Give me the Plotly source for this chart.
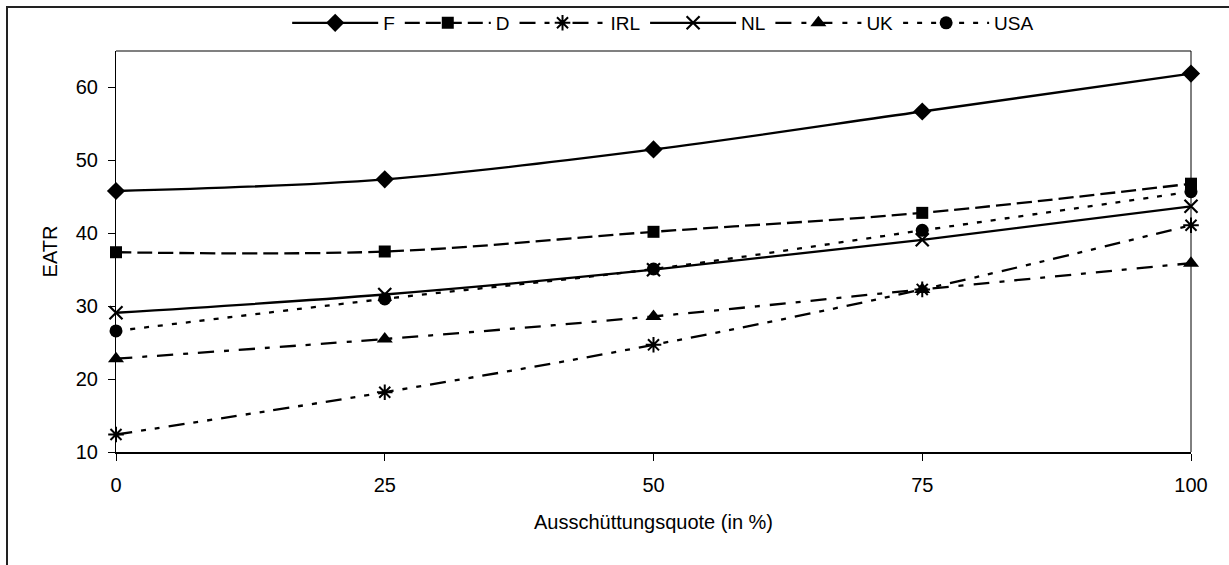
import plotly.graph_objects as go

# ---- data ----
x_vals = [0, 25, 50, 75, 100]
series_names = ["F", "D", "IRL", "NL", "UK", "USA"]
F = [45.8, 47.4, 51.5, 56.7, 61.9]
D = [37.4, 37.5, 40.2, 42.8, 46.8]
IRL = [12.4, 18.2, 24.7, 32.3, 41.1]
NL = [29.1, 31.6, 35.0, 39.1, 43.7]
UK = [22.8, 25.5, 28.6, 32.3, 35.9]
USA = [26.6, 31.0, 35.1, 40.4, 45.7]
x_ticks = [0, 25, 50, 75, 100]
y_ticks = [10, 20, 30, 40, 50, 60]
x_title = "Ausschüttungsquote (in %)"
y_title = "EATR"

values = {"F": F, "D": D, "IRL": IRL, "NL": NL, "UK": UK, "USA": USA}

# ---- styles ----
styles = {
    "F":   dict(dash="solid", symbol="diamond", size=14, lw=0),
    "D":   dict(dash="15px,6px", symbol="square", size=12, lw=0),
    "IRL": dict(dash="16px,9px,5px,9px,5px,9px", symbol="asterisk-open", size=13, lw=2),
    "NL":  dict(dash="solid", symbol="x-thin-open", size=13, lw=2.2),
    "UK":  dict(dash="16px,10px,5px,10px", symbol="triangle-up", size=14, lw=0),
    "USA": dict(dash="5px,9px", symbol="circle", size=13, lw=0),
}

FONT = "Liberation Sans, Arial, sans-serif"

fig = go.Figure()
for name in series_names:
    s = styles[name]
    fig.add_trace(go.Scatter(
        x=x_vals, y=values[name], name=name,
        mode="lines+markers",
        line=dict(color="black", width=2.3, dash=s["dash"], shape="spline", smoothing=1),
        marker=dict(symbol=s["symbol"], size=s["size"], color="black",
                    line=dict(color="black", width=s["lw"])),
        cliponaxis=False,
    ))

fig.update_layout(
    width=1229, height=565,
    margin=dict(l=116, r=38, t=51, b=113, autoexpand=False),
    paper_bgcolor="white", plot_bgcolor="white",
    font=dict(family=FONT, size=20, color="black"),
    showlegend=True,
    legend=dict(orientation="h", x=0.509, xanchor="center", y=1.07, yanchor="middle",
                font=dict(size=19), itemwidth=86, bgcolor="rgba(0,0,0,0)",
                traceorder="normal"),
    xaxis=dict(range=[0, 100], tickvals=x_ticks, ticks="outside", ticklen=7,
               tickcolor="black", showline=True, linecolor="black", linewidth=2,
               showgrid=False, zeroline=False, ticklabelstandoff=7,
               title=dict(text=x_title, standoff=20, font=dict(size=20))),
    yaxis=dict(range=[10, 65], tickvals=y_ticks, ticks="outside", ticklen=7,
               tickcolor="black", showline=True, linecolor="black", linewidth=1,
               showgrid=False, zeroline=False, ticklabelstandoff=6,
               title=dict(text=y_title, standoff=12, font=dict(size=20))),
)

# plot-area top (grey) and right (black) borders
fig.add_shape(type="line", xref="paper", yref="paper", x0=0, x1=1, y0=1, y1=1,
              line=dict(color="#808080", width=2))
fig.add_shape(type="line", xref="paper", yref="paper", x0=1, x1=1, y0=0, y1=1,
              line=dict(color="black", width=1))
# outer chart frame
fig.add_shape(type="rect", xref="paper", yref="paper",
              xsizemode="pixel", ysizemode="pixel", xanchor=0, yanchor=1,
              x0=-109, x1=1200, y0=44, y1=-700,
              line=dict(color="#222222", width=2), fillcolor="rgba(0,0,0,0)")

fig.write_html("out.html")
